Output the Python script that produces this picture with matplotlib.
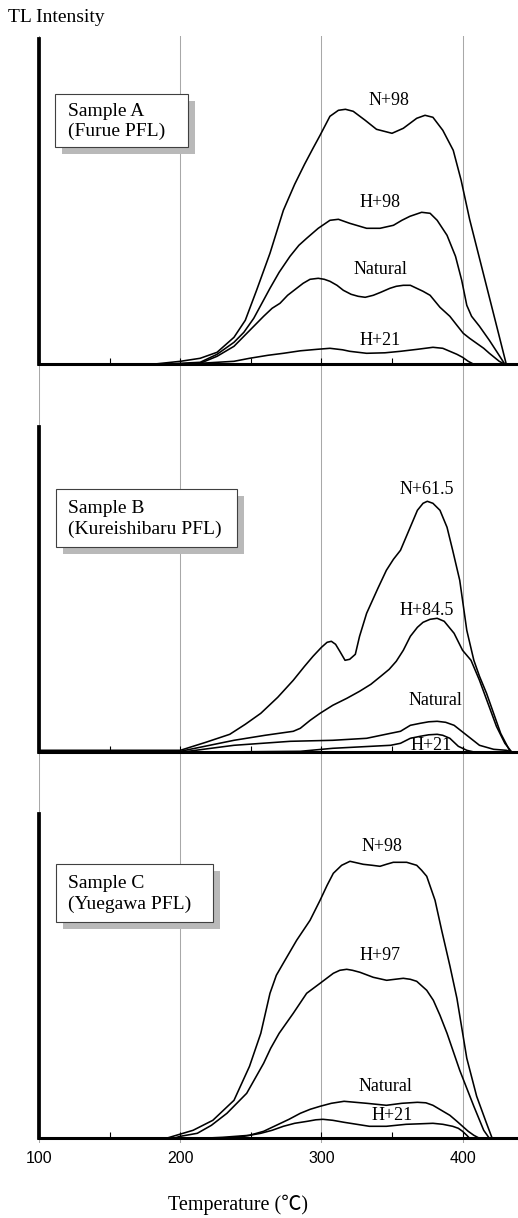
import matplotlib
matplotlib.use('Agg')
import matplotlib.pyplot as plt
from matplotlib.patches import Rectangle

# ---------------- data (temperature in deg C, TL intensity in arbitrary units) -------------
tick_values = [100, 200, 300, 400]
tick_labels = ['100', '200', '300', '400']
minor_values = [150, 250, 350]

sample_names = ['Sample A\n(Furue PFL)', 'Sample B\n(Kureishibaru PFL)', 'Sample C\n(Yuegawa PFL)']

# Sample A
a_n98_t = [100, 180, 200, 214, 226, 238, 246, 254, 263.5, 273, 281, 288, 294, 299, 306, 312, 317, 322.5, 331, 339, 350, 358, 367.5, 373.4, 379, 386, 393.4, 399, 405, 412, 419, 426, 431]
a_n98_i = [0, 0, 3, 6, 12, 27, 44, 74, 111, 154, 180, 200, 216, 229, 248, 254, 255, 253, 244, 235, 231, 236, 246, 249, 247, 234, 214, 184, 145, 106, 67, 28, 0]
a_h98_t = [100, 190, 200, 214, 226, 238, 245, 252, 263.5, 270, 277.7, 284, 289.5, 297.7, 306, 312, 320, 332, 341.5, 351, 357, 362.7, 371, 377, 382, 389, 395, 399.4, 403, 406.4, 412, 419, 425, 430]
a_h98_i = [0, 0, 1, 2, 10, 22, 32, 46, 76, 92, 108, 119, 126, 136, 144, 145, 141, 136, 136, 139, 144, 148, 152, 151, 144, 129, 108, 84, 59, 48, 38, 24, 11, 0]
a_nat_t = [100, 195, 214, 226, 238, 245, 252, 259, 265, 270.6, 276, 282.4, 287, 291.9, 297.7, 302, 306, 311, 315.5, 321, 326, 331, 336.7, 342, 348.5, 353, 358, 363, 367.5, 372, 377, 384, 391, 396, 400.5, 405, 410, 415, 419, 426, 430]
a_nat_i = [0, 0, 1, 8, 18, 28, 38, 48, 56, 61, 69, 76, 81, 85, 86, 85, 83, 79, 74, 70, 68, 67, 69, 72, 76, 78, 79, 79, 76, 73, 69, 57, 48, 39, 31, 26, 21, 16, 11, 3, 0]
a_h21_t = [100, 190, 214, 238, 249, 262, 273, 285, 297, 306, 315, 320, 332, 345, 356, 368, 379, 386, 391, 396, 400, 404, 408]
a_h21_i = [0, 0, 1, 3, 6, 9, 11, 13.5, 15, 16, 14.5, 13, 11, 11.5, 13, 15, 17, 16, 13, 10, 7, 3, 0]

# Sample B
b_n615_t = [100, 200, 218, 235, 246, 257, 269, 280, 288, 294, 300, 304, 307, 310, 313, 316.7, 320, 324, 327, 332, 340, 346, 351, 356, 362, 368, 372, 375, 379, 384, 389, 393, 398, 403, 408, 412, 417, 422, 427, 434]
b_n615_i = [2, 2, 10, 18, 28, 39, 55, 72, 86, 96, 105, 110, 111, 108, 101, 92, 93, 98, 116, 139, 164, 182, 193, 202, 222, 242, 249, 251, 249, 242, 225, 202, 172, 122, 92, 76, 59, 39, 19, 0]
b_h845_t = [100, 200, 238, 260, 280, 285, 292, 299, 308, 318, 327, 335, 342, 348, 353, 358, 363, 368, 372, 377, 382, 387, 394, 400, 406, 412, 418, 424, 430, 435]
b_h845_i = [1, 1, 12, 17, 21, 24, 32, 39, 47, 54, 61, 68, 76, 83, 91, 102, 116, 125, 130, 133, 134, 131, 119, 102, 92, 72, 49, 26, 9, 0]
b_nat_t = [100, 200, 238, 278, 308, 332, 349, 356, 363, 370, 376, 382, 388, 394, 403, 412, 422, 431, 436]
b_nat_i = [0, 0, 7, 11, 12, 14, 19, 21, 27, 29, 30.5, 31, 30, 27, 17, 7, 3, 2, 0]
b_h21_t = [100, 200, 285, 308, 349, 356, 363, 370, 376, 382, 386, 391, 397, 403, 409]
b_h21_i = [0, 0, 1, 4, 7, 9, 14, 16, 17.5, 18, 17, 14, 6, 2, 0]

# Sample C
c_n98_t = [100, 190, 209, 223, 238, 249, 257, 263.5, 268, 272.9, 282.4, 291.9, 299, 304, 308.4, 314.3, 320.2, 329.6, 336, 341.5, 346, 350.9, 360.4, 367.5, 371, 374.6, 380.5, 385.2, 391.1, 396, 403, 410, 417, 421]
c_n98_i = [0, 0, 8, 18, 38, 72, 105, 145, 163, 175, 198, 218, 238, 253, 265, 273, 277, 274, 273, 272, 274, 276, 276, 273, 268, 262, 238, 208, 172, 140, 80, 42, 15, 0]
c_h97_t = [100, 195, 200, 212, 222, 233, 247, 259, 264, 270, 280, 289.5, 299, 308.4, 313, 317.9, 322, 327.3, 336.7, 346.2, 352, 358, 363, 367.5, 374.6, 379.3, 384, 389, 398, 408, 415, 419]
c_h97_i = [0, 0, 2, 5, 13, 25, 45, 75, 90, 105, 125, 145, 155, 165, 168, 169, 168, 166, 161, 158, 159, 160, 159, 157, 148, 138, 123, 105, 68, 32, 8, 0]
c_nat_t = [100, 215, 230, 249, 259, 268, 277, 285, 292, 299, 307, 316, 324, 332, 339, 346, 357, 368, 374, 379, 385, 391, 396, 400, 404, 408, 412]
c_nat_i = [0, 0, 1, 3, 7, 13, 19, 25, 29, 32, 35, 37, 36, 35, 34, 33, 35, 36, 35.5, 33, 28, 23, 17, 12, 7, 3, 0]
c_h21_t = [100, 230, 245, 257, 265, 273, 281, 290, 296, 301, 308, 316, 325, 334, 346, 353, 360, 370, 379, 386, 393, 397, 400, 403, 405]
c_h21_i = [0, 0, 2, 5, 8, 12, 15, 17, 18.5, 19, 18, 16, 14, 12, 12, 13, 14, 14.5, 15, 14, 12, 10, 7, 3, 0]

panel_curves = [
    [(a_n98_t, a_n98_i), (a_h98_t, a_h98_i), (a_nat_t, a_nat_i), (a_h21_t, a_h21_i)],
    [(b_n615_t, b_n615_i), (b_h845_t, b_h845_i), (b_nat_t, b_nat_i), (b_h21_t, b_h21_i)],
    [(c_n98_t, c_n98_i), (c_h97_t, c_h97_i), (c_nat_t, c_nat_i), (c_h21_t, c_h21_i)],
]
panel_labels = [
    [('N+98', 348, 264), ('H+98', 341.5, 162), ('Natural', 341.5, 95), ('H+21', 341.5, 24)],
    [('N+61.5', 374.6, 263), ('H+84.5', 374.6, 142), ('Natural', 380.8, 52), ('H+21', 378, 7)],
    [('N+98', 342.7, 292), ('H+97', 341.5, 183), ('Natural', 345, 52), ('H+21', 349.8, 23)],
]

# ---------------- layout ----------------
W, H = 518, 1218
fig = plt.figure(figsize=(W / 100, H / 100), dpi=100)
fig.patch.set_facecolor('white')

def fx(px):
    return px / W

def fy(py):
    return 1 - py / H

SERIF = ['Liberation Serif', 'DejaVu Serif']
X0, X1 = 39.3, 518
XMIN, XMAX = 100, 439.3

# gray vertical reference lines spanning the whole figure
gax = fig.add_axes([fx(X0), fy(1143), fx(X1) - fx(X0), (1143 - 36) / H], zorder=0)
gax.set_xlim(XMIN, XMAX)
gax.set_ylim(0, 1)
gax.axis('off')
for t in tick_values:
    gax.axvline(t, color='#a8a8a8', lw=0.75)

panels = [(39, 364.3), (426.7, 752.3), (814.3, 1138.3)]
boxes = [(55, 94, 188, 147), (56, 489, 237, 547), (56, 864, 213, 922)]

for k, (top, bot) in enumerate(panels):
    ax = fig.add_axes([fx(X0), fy(bot), fx(X1) - fx(X0), (bot - top) / H], zorder=1)
    ax.patch.set_alpha(0)
    ax.set_xlim(XMIN, XMAX)
    ax.set_ylim(0, bot - top)
    for s in ['top', 'right']:
        ax.spines[s].set_visible(False)
    ax.spines['left'].set_linewidth(2.7)
    ax.spines['bottom'].set_linewidth(2.2)
    ax.set_yticks([])
    ax.set_xticks(tick_values)
    ax.set_xticks(minor_values, minor=True)
    ax.tick_params(axis='x', which='both', direction='in', length=4.5, width=0.8)
    if k == 2:
        ax.set_xticklabels(tick_labels, fontfamily='Liberation Sans', fontsize=11.5)
        ax.tick_params(axis='x', which='major', pad=9)
    else:
        ax.set_xticklabels([])
    for (t, i) in panel_curves[k]:
        ax.plot(t, i, color='black', lw=1.15, solid_joinstyle='round')
    for (txt, tx, ty) in panel_labels[k]:
        ax.text(tx, ty, txt, ha='center', va='center', fontsize=13, family=SERIF)

    # sample box with shadow
    x0, y0, x1, y1 = boxes[k]
    sh = Rectangle((fx(x0 + 7), fy(y1 + 7)), fx(x1 - x0), (y1 - y0) / H,
                   transform=fig.transFigure, facecolor='#b9b9b9', edgecolor='none', zorder=5)
    bx = Rectangle((fx(x0), fy(y1)), fx(x1 - x0), (y1 - y0) / H,
                   transform=fig.transFigure, facecolor='white', edgecolor='#404040',
                   lw=0.8, zorder=6)
    fig.add_artist(sh)
    fig.add_artist(bx)
    fig.text(fx(68), fy((y0 + y1) / 2 + 1), sample_names[k], ha='left', va='center',
             fontsize=14, family=SERIF, linespacing=1.25, zorder=7)

fig.text(fx(8), fy(18), 'TL Intensity', ha='left', va='center', fontsize=14, family=SERIF)
fig.text(fx(237.5), fy(1205), 'Temperature (\u2103)', ha='center', va='center', fontsize=14.5,
         family=['Liberation Serif', 'Noto Sans CJK JP', 'DejaVu Sans'])

fig.savefig('out.png', dpi=100, facecolor='white')
